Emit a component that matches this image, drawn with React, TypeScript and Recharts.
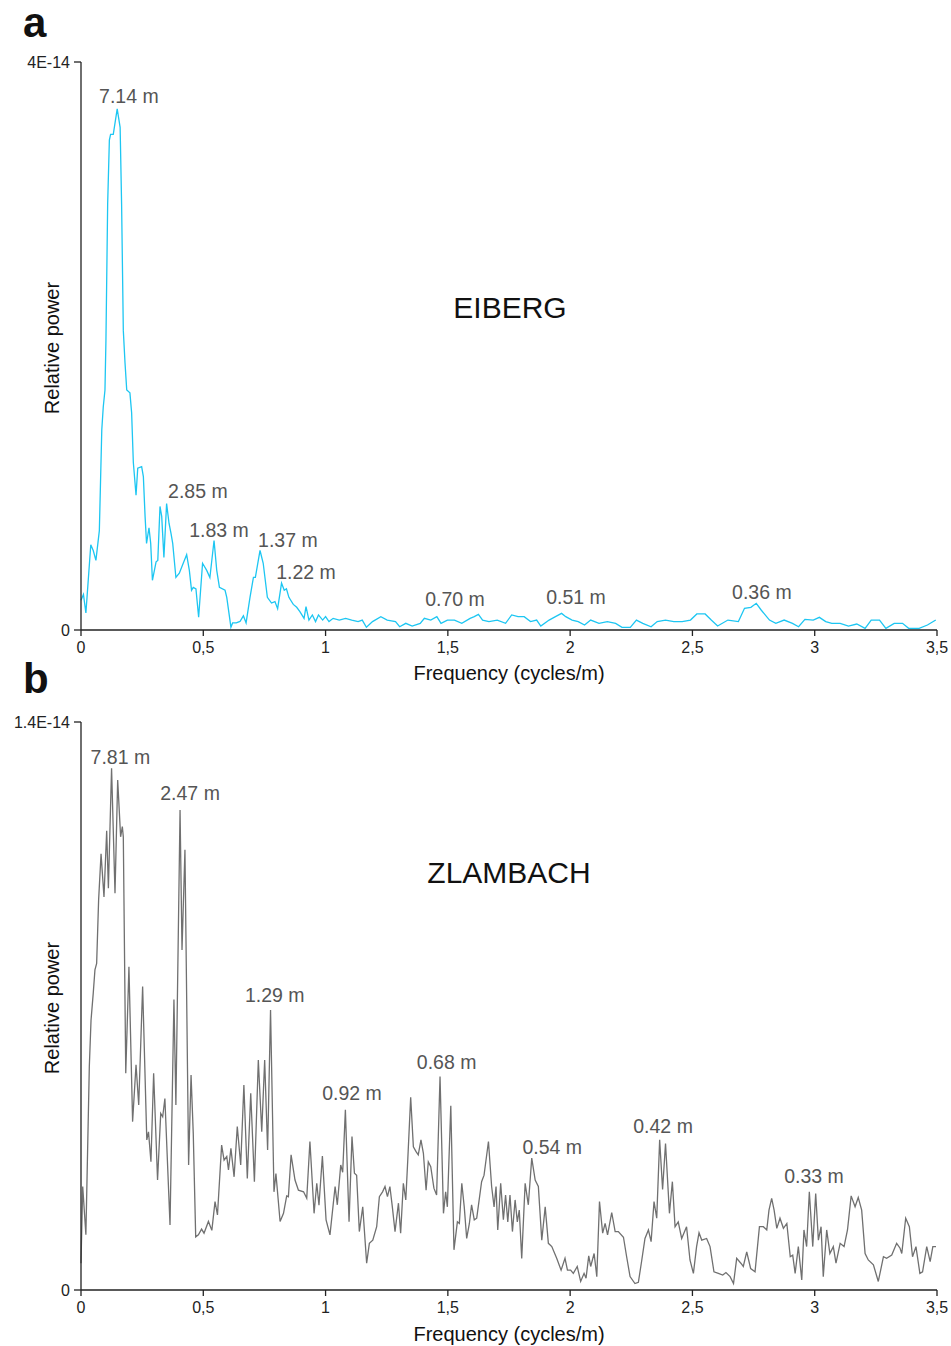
import { LineChart, Line, XAxis, YAxis, ReferenceDot } from 'recharts';

// power values are in units of 1E-15
const FREQ_TICKS = [0, 0.5, 1, 1.5, 2, 2.5, 3, 3.5];

const EIBERG_Y_TICKS = [0, 40];
const EIBERG_Y_LABELS = ['0', '4E-14'];
const ZLAMBACH_Y_TICKS = [0, 14];
const ZLAMBACH_Y_LABELS = ['0', '1.4E-14'];

// [frequency (cycles/m), relative power]
const EIBERG_POINTS: [number, number][] = [
  [0, 2.1], [0.01, 2.5], [0.02, 1.2], [0.04, 6.0], [0.05, 5.6], [0.061, 4.9], [0.075, 7.0],
  [0.085, 14.1], [0.091, 15.7], [0.098, 16.9], [0.102, 20.4], [0.109, 30], [0.116, 34.5],
  [0.121, 34.9], [0.132, 34.9], [0.148, 36.7], [0.16, 35.4], [0.166, 30], [0.173, 21.1],
  [0.18, 18.8], [0.187, 16.9], [0.2, 16.7], [0.207, 15.3], [0.214, 11.8], [0.225, 9.5],
  [0.232, 11.4], [0.248, 11.5], [0.255, 10.8], [0.262, 8.0], [0.268, 6.1], [0.278, 7.2],
  [0.285, 6.1], [0.292, 3.5], [0.307, 4.8], [0.314, 4.9], [0.323, 8.7], [0.33, 8.0],
  [0.339, 5.1], [0.35, 8.9], [0.36, 7.5], [0.368, 6.8], [0.375, 6.1], [0.388, 3.7],
  [0.402, 4.0], [0.418, 4.7], [0.432, 5.3], [0.443, 4.2], [0.452, 2.8], [0.459, 3.0],
  [0.47, 2.9], [0.481, 0.9], [0.497, 4.7], [0.514, 4.2], [0.527, 3.7], [0.544, 6.3],
  [0.555, 4.2], [0.566, 3.0], [0.589, 2.8], [0.596, 2.3], [0.613, 0.2], [0.62, 0.5],
  [0.635, 0.5], [0.65, 0.6], [0.664, 1.0], [0.675, 0.5], [0.691, 2.3], [0.705, 3.7],
  [0.713, 3.7], [0.732, 5.6], [0.745, 4.7], [0.762, 2.3], [0.779, 1.9], [0.793, 2.0],
  [0.804, 1.5], [0.82, 3.3], [0.831, 2.8], [0.84, 2.9], [0.85, 2.3], [0.868, 1.8],
  [0.882, 1.6], [0.895, 1.3], [0.912, 0.82], [0.92, 1.64], [0.932, 0.7], [0.946, 1.06],
  [0.959, 0.59], [0.971, 1.06], [0.988, 0.7], [1.0, 0.94], [1.014, 0.59], [1.031, 0.82],
  [1.056, 0.7], [1.082, 0.82], [1.107, 0.7], [1.133, 0.59], [1.15, 0.7], [1.167, 0.19],
  [1.192, 0.59], [1.226, 0.94], [1.252, 0.7], [1.286, 0.59], [1.303, 0.23], [1.328, 0.47],
  [1.354, 0.28], [1.387, 0.47], [1.404, 0.82], [1.43, 0.7], [1.455, 0.94], [1.472, 0.47],
  [1.498, 0.7], [1.527, 0.7], [1.557, 0.47], [1.591, 0.82], [1.608, 0.94], [1.625, 1.1],
  [1.642, 0.7], [1.668, 0.59], [1.702, 0.7], [1.736, 0.47], [1.761, 1.06], [1.787, 0.94],
  [1.812, 0.94], [1.838, 0.59], [1.863, 0.7], [1.88, 0.28], [1.914, 0.7], [1.94, 0.94],
  [1.965, 1.17], [1.982, 0.94], [2.008, 0.7], [2.033, 0.59], [2.059, 0.35], [2.084, 0.7],
  [2.118, 0.47], [2.152, 0.59], [2.186, 0.47], [2.212, 0.19], [2.246, 0.19], [2.271, 0.7],
  [2.297, 0.47], [2.331, 0.23], [2.356, 0.59], [2.39, 0.7], [2.424, 0.59], [2.458, 0.59],
  [2.492, 0.7], [2.518, 1.13], [2.552, 1.13], [2.577, 0.7], [2.603, 0.28], [2.645, 0.7],
  [2.688, 0.59], [2.713, 1.53], [2.739, 1.6], [2.761, 1.88], [2.781, 1.41], [2.815, 0.7],
  [2.841, 0.47], [2.875, 0.7], [2.909, 0.47], [2.934, 0.23], [2.96, 0.75], [2.994, 0.7],
  [3.019, 0.89], [3.045, 0.59], [3.07, 0.47], [3.104, 0.47], [3.138, 0.28], [3.172, 0.42],
  [3.206, 0.12], [3.231, 0.7], [3.265, 0.7], [3.291, 0.12], [3.325, 0.47], [3.359, 0.47],
  [3.384, 0.12], [3.427, 0.12], [3.461, 0.35], [3.495, 0.7],
];

const ZLAMBACH_POINTS: [number, number][] = [
  [0, 0.66], [0.007, 2.55], [0.02, 1.36], [0.034, 5.5], [0.041, 6.65], [0.05, 7.31],
  [0.057, 7.89], [0.064, 8.05], [0.072, 9.61], [0.082, 10.75], [0.094, 9.69], [0.105, 11.32],
  [0.112, 9.9], [0.125, 12.86], [0.139, 9.78], [0.15, 12.57], [0.162, 11.17], [0.169, 11.42],
  [0.173, 11.17], [0.183, 5.34], [0.196, 7.97], [0.211, 4.15], [0.225, 5.55], [0.236, 4.56],
  [0.252, 7.48], [0.269, 3.7], [0.276, 3.9], [0.286, 3.16], [0.297, 5.34], [0.313, 2.71],
  [0.326, 4.35], [0.334, 4.27], [0.343, 4.72], [0.364, 1.6], [0.38, 7.16], [0.388, 4.56],
  [0.405, 11.83], [0.413, 8.38], [0.425, 10.85], [0.44, 3.08], [0.45, 5.3], [0.459, 3.86],
  [0.469, 1.31], [0.48, 1.36], [0.493, 1.5], [0.503, 1.4], [0.521, 1.69], [0.535, 1.47],
  [0.548, 2.18], [0.558, 1.85], [0.575, 3.57], [0.585, 3.2], [0.596, 3.29], [0.603, 2.96],
  [0.613, 3.49], [0.626, 2.79], [0.639, 4.03], [0.653, 3.08], [0.666, 5.05], [0.68, 2.75],
  [0.694, 4.85], [0.709, 2.67], [0.725, 5.67], [0.739, 3.9], [0.751, 5.67], [0.763, 3.45],
  [0.775, 6.9], [0.789, 2.42], [0.797, 2.87], [0.814, 1.69], [0.828, 1.89], [0.841, 2.32],
  [0.848, 2.3], [0.859, 3.33], [0.875, 2.71], [0.889, 2.46], [0.91, 2.42], [0.923, 2.26],
  [0.936, 3.66], [0.953, 1.89], [0.964, 2.63], [0.973, 2.09], [0.987, 3.3], [1.002, 1.73],
  [1.018, 1.36], [1.039, 2.55], [1.048, 2.1], [1.062, 3.08], [1.07, 2.9], [1.081, 4.44],
  [1.096, 1.68], [1.108, 3.78], [1.118, 2.88], [1.127, 2.83], [1.138, 1.44], [1.152, 2.05],
  [1.168, 0.66], [1.179, 1.15], [1.193, 1.23], [1.209, 1.56], [1.22, 2.3], [1.233, 2.42],
  [1.243, 2.55], [1.253, 2.3], [1.263, 2.55], [1.273, 2.05], [1.284, 1.44], [1.298, 2.14],
  [1.307, 1.4], [1.318, 2.63], [1.328, 2.22], [1.336, 3.2], [1.348, 4.75], [1.359, 3.53],
  [1.37, 3.41], [1.379, 3.33], [1.39, 3.7], [1.4, 3.37], [1.411, 2.46], [1.42, 3.16],
  [1.43, 3.04], [1.443, 2.51], [1.454, 2.34], [1.468, 5.26], [1.482, 1.89], [1.491, 2.42],
  [1.498, 2.05], [1.512, 4.54], [1.525, 0.99], [1.539, 1.68], [1.547, 1.64], [1.557, 2.63],
  [1.567, 2.05], [1.577, 1.27], [1.588, 1.64], [1.597, 2.1], [1.608, 1.73], [1.618, 1.77],
  [1.638, 2.67], [1.648, 2.83], [1.666, 3.66], [1.679, 2.55], [1.689, 2.05], [1.697, 2.55],
  [1.704, 1.48], [1.716, 2.63], [1.727, 1.73], [1.736, 2.34], [1.745, 1.68], [1.754, 2.34],
  [1.764, 1.44], [1.775, 2.22], [1.784, 1.68], [1.792, 1.97], [1.802, 0.78], [1.816, 2.63],
  [1.829, 2.1], [1.843, 3.25], [1.857, 2.71], [1.87, 2.55], [1.884, 1.23], [1.898, 2.05],
  [1.911, 1.15], [1.925, 1.07], [1.945, 0.78], [1.963, 0.49], [1.979, 0.78], [1.989, 0.49],
  [2.002, 0.49], [2.013, 0.41], [2.029, 0.58], [2.043, 0.21], [2.057, 0.41], [2.065, 0.29],
  [2.076, 0.84], [2.084, 0.58], [2.098, 0.9], [2.109, 0.33], [2.12, 2.18], [2.133, 1.4],
  [2.143, 1.64], [2.153, 1.36], [2.17, 1.91], [2.184, 1.44], [2.197, 1.44], [2.218, 1.3],
  [2.231, 0.82], [2.245, 0.33], [2.265, 0.16], [2.279, 0.19], [2.293, 0.74], [2.306, 1.27],
  [2.32, 1.48], [2.331, 1.19], [2.343, 2.18], [2.354, 1.77], [2.366, 3.7], [2.378, 2.48],
  [2.39, 3.61], [2.406, 1.89], [2.418, 2.67], [2.429, 1.56], [2.442, 1.68], [2.456, 1.27],
  [2.476, 1.56], [2.49, 0.74], [2.504, 0.41], [2.517, 1.07], [2.527, 1.41], [2.538, 1.23],
  [2.558, 1.27], [2.572, 1.07], [2.588, 0.45], [2.606, 0.41], [2.624, 0.37], [2.637, 0.43],
  [2.654, 0.33], [2.668, 0.16], [2.681, 0.78], [2.698, 0.66], [2.708, 0.58], [2.722, 0.94],
  [2.738, 0.53], [2.756, 0.45], [2.774, 1.56], [2.79, 1.56], [2.804, 1.48], [2.813, 1.97],
  [2.824, 2.26], [2.834, 1.97], [2.845, 1.52], [2.858, 1.77], [2.872, 1.52], [2.886, 1.64],
  [2.9, 0.82], [2.91, 0.86], [2.92, 0.41], [2.933, 1.07], [2.947, 0.25], [2.956, 1.48],
  [2.967, 1.07], [2.978, 2.42], [2.992, 1.07], [3.004, 2.38], [3.015, 1.23], [3.026, 1.56],
  [3.035, 0.33], [3.049, 1.48], [3.062, 0.9], [3.076, 1.07], [3.087, 0.66], [3.104, 1.15],
  [3.12, 1.07], [3.134, 1.48], [3.149, 2.32], [3.165, 2.05], [3.178, 2.28], [3.192, 1.97],
  [3.206, 0.9], [3.219, 0.74], [3.24, 0.62], [3.26, 0.21], [3.281, 0.82], [3.294, 0.78],
  [3.315, 0.86], [3.335, 1.15], [3.349, 1.03], [3.356, 0.9], [3.372, 1.77], [3.387, 1.56],
  [3.4, 0.82], [3.414, 1.07], [3.43, 0.41], [3.441, 0.45], [3.458, 1.07], [3.472, 0.7],
  [3.483, 1.07], [3.496, 1.07],
];

// peak annotations: [label, frequency, power] of the label centre
const EIBERG_PEAKS: [string, number, number][] = [
  ['7.14 m', 0.196, 37.6], ['2.85 m', 0.478, 9.79], ['1.83 m', 0.564, 7.04],
  ['1.37 m', 0.846, 6.34], ['1.22 m', 0.92, 4.08], ['0.70 m', 1.529, 2.18],
  ['0.51 m', 2.024, 2.32], ['0.36 m', 2.784, 2.68],
];
const ZLAMBACH_PEAKS: [string, number, number][] = [
  ['7.81 m', 0.161, 13.13], ['2.47 m', 0.446, 12.24], ['1.29 m', 0.792, 7.27],
  ['0.92 m', 1.108, 4.85], ['0.68 m', 1.495, 5.63], ['0.54 m', 1.927, 3.53],
  ['0.42 m', 2.38, 4.03], ['0.33 m', 2.997, 2.81],
];

const FONT = 'Arial, "Liberation Sans", Helvetica, sans-serif';
const AXIS = '#222';

type PanelProps = {
  points: [number, number][];
  peaks: [string, number, number][];
  yTicks: number[];
  yLabels: string[];
  color: string;
  height: number;
  xAxisHeight: number;
};

const Panel = ({ points, peaks, yTicks, yLabels, color, height, xAxisHeight }: PanelProps) => {
  const data = points.map(([f, p]) => ({ f, p }));
  const tickStyle = { fontSize: 16, fill: AXIS, fontFamily: FONT };
  return (
    <LineChart width={951} height={height} data={data} margin={{ top: 62, right: 14, bottom: 0, left: 0 }}>
      <XAxis
        dataKey="f"
        type="number"
        domain={[0, 3.5]}
        ticks={FREQ_TICKS}
        tickFormatter={(v: number) => String(v).replace('.', ',')}
        height={xAxisHeight}
        stroke={AXIS}
        strokeWidth={1.3}
        tickSize={6}
        tickMargin={6}
        tick={tickStyle}
        interval={0}
      />
      <YAxis
        type="number"
        domain={[0, yTicks[1]]}
        ticks={yTicks}
        tickFormatter={(v: number) => yLabels[yTicks.indexOf(v)]}
        width={81}
        stroke={AXIS}
        strokeWidth={1.3}
        tickSize={7}
        tickMargin={4}
        tick={tickStyle}
        interval={0}
        allowDataOverflow
      />
      <Line
        dataKey="p"
        type="linear"
        stroke={color}
        strokeWidth={1.3}
        dot={false}
        activeDot={false}
        isAnimationActive={false}
      />
      {peaks.map(([text, f, p]) => (
        <ReferenceDot
          key={text}
          x={f}
          y={p}
          r={0}
          fill="none"
          stroke="none"
          label={{ value: text, position: 'center', fill: '#555', fontSize: 19.5, fontFamily: FONT }}
        />
      ))}
    </LineChart>
  );
};

const abs = (extra: React.CSSProperties): React.CSSProperties => ({
  position: 'absolute',
  fontFamily: FONT,
  color: '#111',
  whiteSpace: 'nowrap',
  lineHeight: 1,
  ...extra,
});

const App = () => {
  return (
    <div style={{ position: 'absolute', left: 0, top: 0, width: 951, height: 1346, background: '#fff' }}>
      <div style={{ position: 'absolute', left: 0, top: 0 }}>
        <Panel
          points={EIBERG_POINTS}
          peaks={EIBERG_PEAKS}
          yTicks={EIBERG_Y_TICKS}
          yLabels={EIBERG_Y_LABELS}
          color="#1DC6F2"
          height={680}
          xAxisHeight={50}
        />
      </div>
      <div style={{ position: 'absolute', left: 0, top: 660 }}>
        <Panel
          points={ZLAMBACH_POINTS}
          peaks={ZLAMBACH_PEAKS}
          yTicks={ZLAMBACH_Y_TICKS}
          yLabels={ZLAMBACH_Y_LABELS}
          color="#707070"
          height={686}
          xAxisHeight={56}
        />
      </div>

      <div style={abs({ left: 23, top: 2, fontSize: 42, fontWeight: 'bold' })}>a</div>
      <div style={abs({ left: 23, top: 658, fontSize: 42, fontWeight: 'bold' })}>b</div>

      <div style={abs({ left: 510, top: 308, fontSize: 30, transform: 'translate(-50%, -50%)' })}>EIBERG</div>
      <div style={abs({ left: 509, top: 873, fontSize: 30, transform: 'translate(-50%, -50%)' })}>ZLAMBACH</div>

      <div style={abs({ left: 52, top: 348, fontSize: 20, transform: 'translate(-50%, -50%) rotate(-90deg)' })}>
        Relative power
      </div>
      <div style={abs({ left: 52, top: 1008, fontSize: 20, transform: 'translate(-50%, -50%) rotate(-90deg)' })}>
        Relative power
      </div>

      <div style={abs({ left: 509, top: 673, fontSize: 20, transform: 'translate(-50%, -50%)' })}>
        Frequency (cycles/m)
      </div>
      <div style={abs({ left: 509, top: 1334, fontSize: 20, transform: 'translate(-50%, -50%)' })}>
        Frequency (cycles/m)
      </div>
    </div>
  );
};

export default App;
